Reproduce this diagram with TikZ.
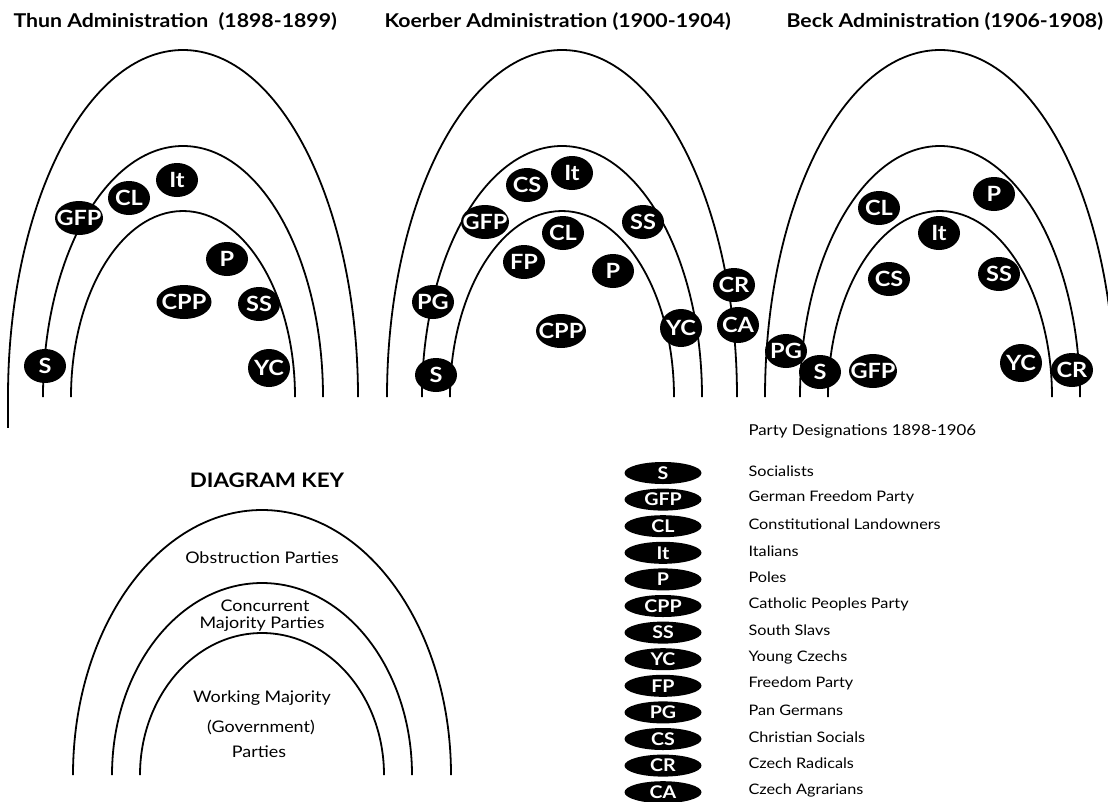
\documentclass[tikz,border=0pt]{standalone}
\usepackage{fontspec}
\setmainfont{Lato}[FakeStretch=1.12]
\usetikzlibrary{shapes.geometric}

\tikzset{
  party/.style={ellipse, fill=black, text=white, inner xsep=-6pt, inner ysep=-1pt,
    minimum width=42pt, minimum height=34pt,
    font=\bfseries\fontsize{21}{21}\selectfont},
  keyparty/.style={ellipse, fill=black, text=white, inner sep=0pt,
    minimum width=77pt, minimum height=22pt,
    font=\bfseries\fontsize{17.5}{17.5}\selectfont},
  title/.style={anchor=west, font=\bfseries\fontsize{19}{19}\selectfont},
  keytext/.style={font=\fontsize{16}{16}\selectfont},
  desc/.style={anchor=west, font=\fontsize{14.5}{14.5}\selectfont},
  arch/.style={line width=1.8pt}
}

\begin{document}
\begin{tikzpicture}[x=1pt, y=-1pt]
  \useasboundingbox (0,0) rectangle (1108,801);
  \clip (0,0) rectangle (1108,801);

  % titles
  \node[title] (thun) at (10,22) {Thun Administration\ \ (1898-1899)};
  \node[title] (koerber) at (381,22) {Koerber Administration (1900-1904)};
  \node[title] (beck) at (783,22) {Beck Administration (1906-1908)};

  % arches of the three administrations
  \foreach \cx in {183,562,940} {
    \draw[arch] (\cx-175,397) arc[start angle=180, end angle=360, x radius=175, y radius=347];
    \draw[arch] (\cx-140,397) arc[start angle=180, end angle=360, x radius=140, y radius=251];
    \draw[arch] (\cx-112,397) arc[start angle=180, end angle=360, x radius=112, y radius=186];
  }
  \draw[arch] (8,397) -- (8,428);

  % Thun
  \node[party] (t-it)  at (177,180) {It};
  \node[party] (t-cl)  at (129,198) {CL};
  \node[party, minimum width=48pt] (t-gfp) at (79,218) {GFP};
  \node[party] (t-p)   at (227,259) {P};
  \node[party, minimum width=55pt] (t-cpp) at (184,302) {CPP};
  \node[party] (t-ss)  at (259,304) {SS};
  \node[party] (t-s)   at (45,366) {S};
  \node[party, minimum height=38pt] (t-yc) at (269,368) {YC};

  % Koerber
  \node[party] (k-it)  at (572,173) {It};
  \node[party] (k-cs)  at (527,185) {CS};
  \node[party, minimum width=48pt] (k-gfp) at (485,222) {GFP};
  \node[party] (k-cl)  at (563,233) {CL};
  \node[party] (k-ss)  at (643,222) {SS};
  \node[party] (k-fp)  at (524,262) {FP};
  \node[party] (k-p)   at (613,271) {P};
  \node[party] (k-pg)  at (433,302) {PG};
  \node[party, minimum width=50pt] (k-cpp) at (561,331) {CPP};
  \node[party, minimum height=38pt] (k-yc) at (681,328) {YC};
  \node[party] (k-s)   at (436,375) {S};
  \node[party] (k-cr)  at (734,285) {CR};
  \node[party, minimum height=36pt] (k-ca) at (738,325) {CA};

  % Beck
  \node[party] (b-p)   at (994,194) {P};
  \node[party] (b-cl)  at (879,208) {CL};
  \node[party] (b-it)  at (939,233) {It};
  \node[party] (b-cs)  at (889,279) {CS};
  \node[party] (b-ss)  at (999,274) {SS};
  \node[party] (b-pg)  at (786,351) {PG};
  \node[party] (b-s)   at (820,372) {S};
  \node[party, minimum width=48pt] (b-gfp) at (873,371) {GFP};
  \node[party, minimum height=38pt] (b-yc) at (1021,363) {YC};
  \node[party] (b-cr)  at (1072,370) {CR};

  % diagram key
  \node[font=\bfseries\fontsize{20}{20}\selectfont] (keyhead) at (267,480) {DIAGRAM KEY};
  \draw[arch] (73,775) arc[start angle=180, end angle=360, x radius=189, y radius=265];
  \draw[arch] (112,775) arc[start angle=180, end angle=360, x radius=150, y radius=192];
  \draw[arch] (140,775) arc[start angle=180, end angle=360, x radius=122, y radius=142];
  \node[keytext] (obstr) at (262,558) {Obstruction Parties};
  \node[keytext] (concur) at (265,606) {Concurrent};
  \node[keytext] (concmaj) at (262,624) {Majority Parties};
  \node[keytext] (workmaj) at (262,698) {Working Majority};
  \node[keytext] (gov) at (261,727) {(Government)};
  \node[keytext] (govpart) at (259,752) {Parties};

  % party designations
  \node[anchor=west, font=\fontsize{15}{15}\selectfont] (deshead) at (745,431) {Party Designations 1898-1906};
  \foreach \abbr/\name [count=\i from 0] in {S/Socialists, GFP/German Freedom Party,
      CL/Constitutional Landowners, It/Italians, P/Poles, CPP/Catholic Peoples Party,
      SS/South Slavs, YC/Young Czechs, FP/Freedom Party, PG/Pan Germans,
      CS/Christian Socials, CR/Czech Radicals, CA/Czech Agrarians} {
    \node[keyparty] (key-\abbr) at (663,{473+26.6*\i}) {\abbr};
    \node[desc] (name-\abbr) at (745,{471+26.6*\i}) {\name};
  }
\end{tikzpicture}
\end{document}
